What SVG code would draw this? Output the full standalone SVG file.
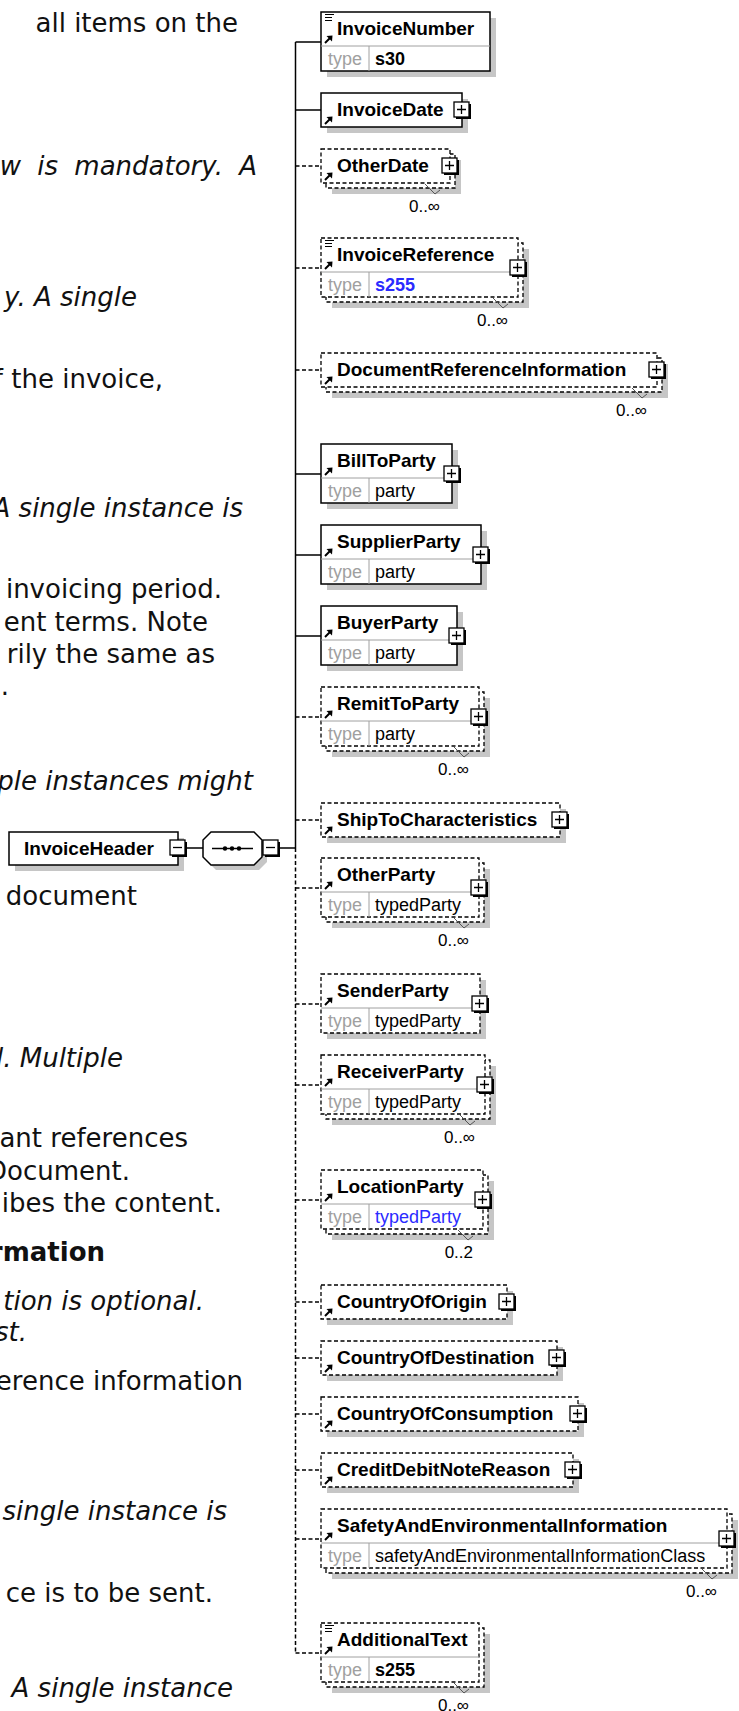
<svg xmlns="http://www.w3.org/2000/svg" xmlns:xlink="http://www.w3.org/1999/xlink" width="739" height="1711" viewBox="0 0 739 1711">
<style>
.bt{font-family:"DejaVu Sans",Verdana,sans-serif;font-size:26px;fill:#111}
.it{font-style:italic}
.bd{font-weight:bold}
.sh{fill:#c6c6c6}
.bx{fill:#fff;stroke:#000;stroke-width:1.5}
.db{fill:#fff;stroke:#000;stroke-width:1.3;stroke-dasharray:4 2.5}
.sep{stroke:#a0a0a0;stroke-width:1;fill:none}
.nm{font-family:"Liberation Sans",Arial,sans-serif;font-weight:bold;font-size:19px;fill:#000}
.ty{font-family:"Liberation Sans",Arial,sans-serif;font-size:18px;fill:#a0a0a0}
.tv{font-family:"Liberation Sans",Arial,sans-serif;font-size:18px;fill:#000}
.tb{font-weight:bold}
.blue{fill:#2b2bff}
.occ{font-family:"Liberation Sans",Arial,sans-serif;font-size:17px;fill:#000;text-anchor:end}
.notch{fill:none;stroke:#555;stroke-width:1}
.cs{stroke:#000;stroke-width:1.5;fill:none}
.cd{stroke:#000;stroke-width:1.5;fill:none;stroke-dasharray:4 2.5}
</style>
<defs>
<g id="plus"><rect x="-6" y="-6" width="15" height="15" fill="#000"/><rect x="-8" y="-8" width="15" height="15" fill="#fff" stroke="#000" stroke-width="1.3"/><path d="M-5,-0.5H4M-0.5,-5V4" stroke="#000" stroke-width="1.3"/></g>
<g id="minus"><rect x="-6" y="-6" width="15" height="15" fill="#000"/><rect x="-8" y="-8" width="15" height="15" fill="#fff" stroke="#000" stroke-width="1.3"/><path d="M-5,-0.5H4" stroke="#000" stroke-width="1.3"/></g>
<g id="ref"><path d="M0,0L5,-5" stroke="#000" stroke-width="2"/><path d="M7.5,-7.5L1.5,-7L7,-1.5Z" fill="#000"/></g>
<g id="doc"><path d="M0,0.5H9M0,3.5H7M0,6.5H7" stroke="#000" stroke-width="1.2"/></g>
</defs>
<rect width="739" height="1711" fill="#fff"/>

<g id="page-text" class="bt" text-anchor="end">
<text x="238" y="32">all items on the</text>
<text class="it" x="257" y="175" word-spacing="8">w is mandatory. A</text>
<text class="it" x="137" y="306">y. A single</text>
<text x="163" y="388">f the invoice,</text>
<text class="it" x="243" y="517">A single instance is</text>
<text x="222" y="598">invoicing period.</text>
<text x="208" y="631">ent terms. Note</text>
<text x="215" y="663">rily the same as</text>
<text x="9" y="695">.</text>
<text class="it" x="253" y="790">ple instances might</text>
<text x="137" y="905">document</text>
<text class="it" x="123" y="1067">l. Multiple</text>
<text x="188" y="1147">ant references</text>
<text x="130" y="1180">Document.</text>
<text x="222" y="1212">ibes the content.</text>
<text class="bd" x="105" y="1261">rmation</text>
<text class="it" x="204" y="1310">tion is optional.</text>
<text class="it" x="27" y="1341">st.</text>
<text x="243" y="1390">erence information</text>
<text class="it" x="227" y="1520">single instance is</text>
<text x="213" y="1602">ce is to be sent.</text>
<text class="it" x="233" y="1697">A single instance</text>
</g>

<g id="connectors">
<path class="cs" d="M295.5,42V848"/>
<path class="cd" d="M295.5,848V1653"/>
<path class="cs" d="M295.5,42H321M295.5,110H321M295.5,474H321M295.5,555H321M295.5,636H321"/>
<path class="cd" d="M295.5,166H321M295.5,268H321M295.5,370H321M295.5,717H321M295.5,820H321M295.5,888H321M295.5,1004H321M295.5,1085H321M295.5,1200H321M295.5,1302H321M295.5,1358H321M295.5,1414H321M295.5,1470H321M295.5,1539H321M295.5,1653H321"/>
<path class="cs" d="M187,848H203M280,848H295.5"/>
</g>

<g id="n-InvoiceHeader">
<rect class="sh" x="15" y="838" width="169" height="33"/>
<rect class="bx" x="9" y="832" width="169" height="33"/>
<text class="nm" x="24" y="855">InvoiceHeader</text>
<use xlink:href="#minus" x="178" y="848"/>
</g>

<g id="sequence">
<polygon class="sh" points="216,837 259,837 267,845 267,862 259,870 216,870 208,862 208,845"/>
<polygon class="bx" points="211,832 254,832 262,840 262,857 254,865 211,865 203,857 203,840"/>
<path d="M212,848.5H253" stroke="#000" stroke-width="1.3"/>
<circle cx="225" cy="848.5" r="2.2"/><circle cx="232" cy="848.5" r="2.2"/><circle cx="239" cy="848.5" r="2.2"/>
<use xlink:href="#minus" x="271" y="848"/>
</g>

<g id="n-InvoiceNumber">
<rect class="sh" x="327" y="18" width="169" height="59"/>
<rect class="bx" x="321" y="12" width="169" height="59"/>
<path class="sep" d="M321,46H490M369,46V71"/>
<use xlink:href="#doc" x="325" y="14"/>
<use xlink:href="#ref" x="325" y="43"/>
<text class="nm" x="337" y="35">InvoiceNumber</text>
<text class="ty" x="328" y="65">type</text>
<text class="tv tb" x="375" y="65">s30</text>
</g>

<g id="n-InvoiceDate">
<rect class="sh" x="327" y="99" width="141" height="34"/>
<rect class="bx" x="321" y="93" width="141" height="34"/>
<use xlink:href="#ref" x="325" y="124"/>
<text class="nm" x="337" y="116">InvoiceDate</text>
<use xlink:href="#plus" x="462" y="110"/>
</g>

<g id="n-OtherDate">
<rect class="sh" x="332" y="160" width="129" height="34"/>
<rect class="db" x="326" y="154" width="129" height="34"/>
<rect class="db" x="321" y="149" width="129" height="34"/>
<use xlink:href="#ref" x="325" y="180"/>
<text class="nm" x="337" y="172">OtherDate</text>
<use xlink:href="#plus" x="450" y="166"/>
<polyline class="notch" points="425,184 435,194 440,190"/>
<text class="occ" x="440" y="212">0..∞</text>
</g>

<g id="n-InvoiceReference">
<rect class="sh" x="332" y="249" width="197" height="59"/>
<rect class="db" x="326" y="243" width="197" height="59"/>
<rect class="db" x="321" y="238" width="197" height="59"/>
<path class="sep" d="M321,272H518M369,272V297"/>
<use xlink:href="#doc" x="325" y="240"/>
<use xlink:href="#ref" x="325" y="269"/>
<text class="nm" x="337" y="261">InvoiceReference</text>
<text class="ty" x="328" y="291">type</text>
<text class="tv tb blue" x="375" y="291">s255</text>
<use xlink:href="#plus" x="518" y="268"/>
<polyline class="notch" points="493,298 503,308 508,304"/>
<text class="occ" x="508" y="326">0..∞</text>
</g>

<g id="n-DocumentReferenceInformation">
<rect class="sh" x="332" y="364" width="336" height="34"/>
<rect class="db" x="326" y="358" width="336" height="34"/>
<rect class="db" x="321" y="353" width="336" height="34"/>
<use xlink:href="#ref" x="325" y="384"/>
<text class="nm" x="337" y="376">DocumentReferenceInformation</text>
<use xlink:href="#plus" x="657" y="370"/>
<polyline class="notch" points="632,388 642,398 647,394"/>
<text class="occ" x="647" y="416">0..∞</text>
</g>

<g id="n-BillToParty">
<rect class="sh" x="327" y="450" width="131" height="59"/>
<rect class="bx" x="321" y="444" width="131" height="59"/>
<path class="sep" d="M321,478H452M369,478V503"/>
<use xlink:href="#ref" x="325" y="475"/>
<text class="nm" x="337" y="467">BillToParty</text>
<text class="ty" x="328" y="497">type</text>
<text class="tv" x="375" y="497">party</text>
<use xlink:href="#plus" x="452" y="474"/>
</g>

<g id="n-SupplierParty">
<rect class="sh" x="327" y="531" width="160" height="59"/>
<rect class="bx" x="321" y="525" width="160" height="59"/>
<path class="sep" d="M321,559H481M369,559V584"/>
<use xlink:href="#ref" x="325" y="556"/>
<text class="nm" x="337" y="548">SupplierParty</text>
<text class="ty" x="328" y="578">type</text>
<text class="tv" x="375" y="578">party</text>
<use xlink:href="#plus" x="481" y="555"/>
</g>

<g id="n-BuyerParty">
<rect class="sh" x="327" y="612" width="136" height="59"/>
<rect class="bx" x="321" y="606" width="136" height="59"/>
<path class="sep" d="M321,640H457M369,640V665"/>
<use xlink:href="#ref" x="325" y="637"/>
<text class="nm" x="337" y="629">BuyerParty</text>
<text class="ty" x="328" y="659">type</text>
<text class="tv" x="375" y="659">party</text>
<use xlink:href="#plus" x="457" y="636"/>
</g>

<g id="n-RemitToParty">
<rect class="sh" x="332" y="698" width="158" height="59"/>
<rect class="db" x="326" y="692" width="158" height="59"/>
<rect class="db" x="321" y="687" width="158" height="59"/>
<path class="sep" d="M321,721H479M369,721V746"/>
<use xlink:href="#ref" x="325" y="718"/>
<text class="nm" x="337" y="710">RemitToParty</text>
<text class="ty" x="328" y="740">type</text>
<text class="tv" x="375" y="740">party</text>
<use xlink:href="#plus" x="479" y="717"/>
<polyline class="notch" points="454,747 464,757 469,753"/>
<text class="occ" x="469" y="775">0..∞</text>
</g>

<g id="n-ShipToCharacteristics">
<rect class="sh" x="327" y="809" width="239" height="34"/>
<rect class="db" x="321" y="803" width="239" height="34"/>
<use xlink:href="#ref" x="325" y="834"/>
<text class="nm" x="337" y="826">ShipToCharacteristics</text>
<use xlink:href="#plus" x="560" y="820"/>
</g>

<g id="n-OtherParty">
<rect class="sh" x="332" y="869" width="158" height="59"/>
<rect class="db" x="326" y="863" width="158" height="59"/>
<rect class="db" x="321" y="858" width="158" height="59"/>
<path class="sep" d="M321,892H479M369,892V917"/>
<use xlink:href="#ref" x="325" y="889"/>
<text class="nm" x="337" y="881">OtherParty</text>
<text class="ty" x="328" y="911">type</text>
<text class="tv" x="375" y="911">typedParty</text>
<use xlink:href="#plus" x="479" y="888"/>
<polyline class="notch" points="454,918 464,928 469,924"/>
<text class="occ" x="469" y="946">0..∞</text>
</g>

<g id="n-SenderParty">
<rect class="sh" x="327" y="980" width="159" height="59"/>
<rect class="db" x="321" y="974" width="159" height="59"/>
<path class="sep" d="M321,1008H480M369,1008V1033"/>
<use xlink:href="#ref" x="325" y="1005"/>
<text class="nm" x="337" y="997">SenderParty</text>
<text class="ty" x="328" y="1027">type</text>
<text class="tv" x="375" y="1027">typedParty</text>
<use xlink:href="#plus" x="480" y="1004"/>
</g>

<g id="n-ReceiverParty">
<rect class="sh" x="332" y="1066" width="164" height="59"/>
<rect class="db" x="326" y="1060" width="164" height="59"/>
<rect class="db" x="321" y="1055" width="164" height="59"/>
<path class="sep" d="M321,1089H485M369,1089V1114"/>
<use xlink:href="#ref" x="325" y="1086"/>
<text class="nm" x="337" y="1078">ReceiverParty</text>
<text class="ty" x="328" y="1108">type</text>
<text class="tv" x="375" y="1108">typedParty</text>
<use xlink:href="#plus" x="485" y="1085"/>
<polyline class="notch" points="460,1115 470,1125 475,1121"/>
<text class="occ" x="475" y="1143">0..∞</text>
</g>

<g id="n-LocationParty">
<rect class="sh" x="332" y="1181" width="162" height="59"/>
<rect class="db" x="326" y="1175" width="162" height="59"/>
<rect class="db" x="321" y="1170" width="162" height="59"/>
<path class="sep" d="M321,1204H483M369,1204V1229"/>
<use xlink:href="#ref" x="325" y="1201"/>
<text class="nm" x="337" y="1193">LocationParty</text>
<text class="ty" x="328" y="1223">type</text>
<text class="tv blue" x="375" y="1223">typedParty</text>
<use xlink:href="#plus" x="483" y="1200"/>
<polyline class="notch" points="458,1230 468,1240 473,1236"/>
<text class="occ" x="473" y="1258">0..2</text>
</g>

<g id="n-CountryOfOrigin">
<rect class="sh" x="327" y="1291" width="186" height="34"/>
<rect class="db" x="321" y="1285" width="186" height="34"/>
<use xlink:href="#ref" x="325" y="1316"/>
<text class="nm" x="337" y="1308">CountryOfOrigin</text>
<use xlink:href="#plus" x="507" y="1302"/>
</g>

<g id="n-CountryOfDestination">
<rect class="sh" x="327" y="1347" width="236" height="34"/>
<rect class="db" x="321" y="1341" width="236" height="34"/>
<use xlink:href="#ref" x="325" y="1372"/>
<text class="nm" x="337" y="1364">CountryOfDestination</text>
<use xlink:href="#plus" x="557" y="1358"/>
</g>

<g id="n-CountryOfConsumption">
<rect class="sh" x="327" y="1403" width="257" height="34"/>
<rect class="db" x="321" y="1397" width="257" height="34"/>
<use xlink:href="#ref" x="325" y="1428"/>
<text class="nm" x="337" y="1420">CountryOfConsumption</text>
<use xlink:href="#plus" x="578" y="1414"/>
</g>

<g id="n-CreditDebitNoteReason">
<rect class="sh" x="327" y="1459" width="252" height="34"/>
<rect class="db" x="321" y="1453" width="252" height="34"/>
<use xlink:href="#ref" x="325" y="1484"/>
<text class="nm" x="337" y="1476">CreditDebitNoteReason</text>
<use xlink:href="#plus" x="573" y="1470"/>
</g>

<g id="n-SafetyAndEnvironmentalInformation">
<rect class="sh" x="332" y="1520" width="406" height="59"/>
<rect class="db" x="326" y="1514" width="406" height="59"/>
<rect class="db" x="321" y="1509" width="406" height="59"/>
<path class="sep" d="M321,1543H727M369,1543V1568"/>
<use xlink:href="#ref" x="325" y="1540"/>
<text class="nm" x="337" y="1532">SafetyAndEnvironmentalInformation</text>
<text class="ty" x="328" y="1562">type</text>
<text class="tv" x="375" y="1562">safetyAndEnvironmentalInformationClass</text>
<use xlink:href="#plus" x="727" y="1539"/>
<polyline class="notch" points="702,1569 712,1579 717,1575"/>
<text class="occ" x="717" y="1597">0..∞</text>
</g>

<g id="n-AdditionalText">
<rect class="sh" x="332" y="1634" width="158" height="59"/>
<rect class="db" x="326" y="1628" width="158" height="59"/>
<rect class="db" x="321" y="1623" width="158" height="59"/>
<path class="sep" d="M321,1657H479M369,1657V1682"/>
<use xlink:href="#doc" x="325" y="1625"/>
<use xlink:href="#ref" x="325" y="1654"/>
<text class="nm" x="337" y="1646">AdditionalText</text>
<text class="ty" x="328" y="1676">type</text>
<text class="tv tb" x="375" y="1676">s255</text>
<polyline class="notch" points="454,1683 464,1693 469,1689"/>
<text class="occ" x="469" y="1711">0..∞</text>
</g>
</svg>
